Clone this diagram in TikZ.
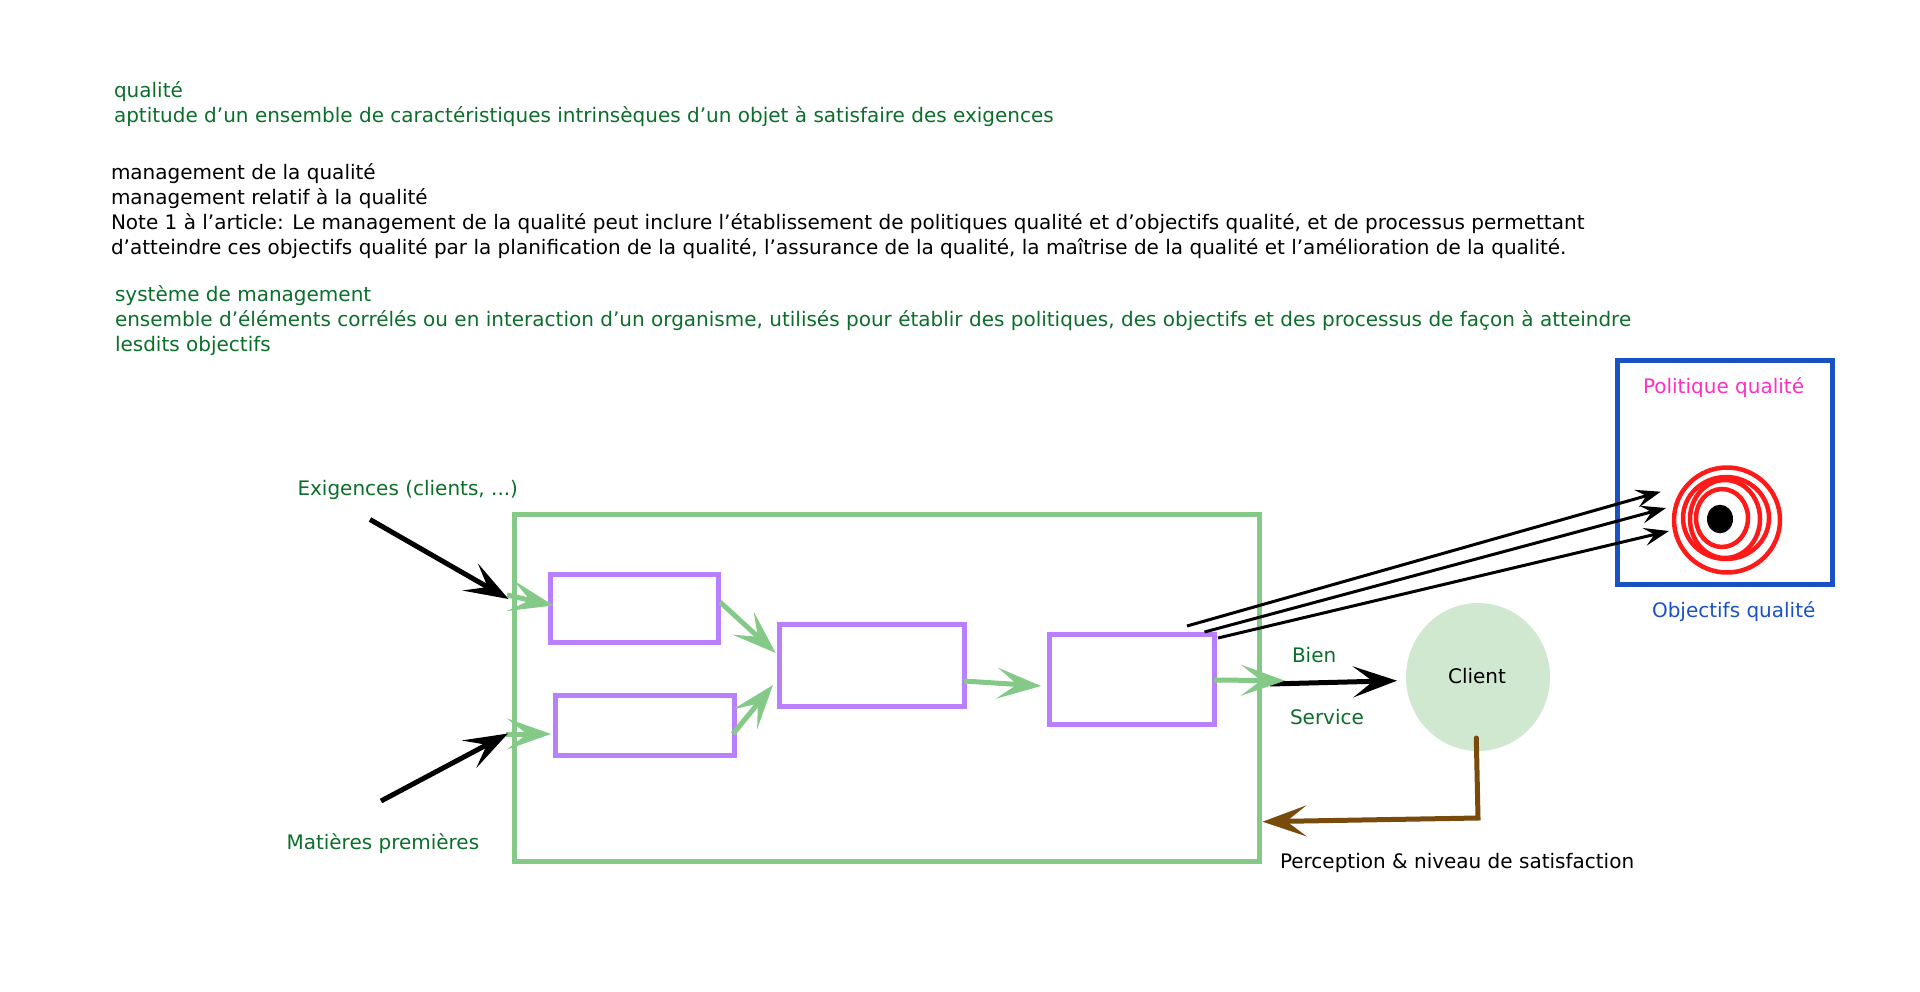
\documentclass[tikz,border=0pt]{standalone}
\usepackage{fontspec}
\setmainfont{DejaVu Sans}
\usetikzlibrary{arrows.meta,shapes.geometric}
\definecolor{txtgreen}{HTML}{0B6E2A}
\definecolor{procgreen}{HTML}{85C988}
\definecolor{stepviolet}{HTML}{B87FFF}
\definecolor{polblue}{HTML}{1A52C4}
\definecolor{clientfill}{HTML}{D0E8D0}
\definecolor{fbbrown}{HTML}{784A0C}
\definecolor{polpink}{HTML}{FF2FC0}
\definecolor{ringred}{HTML}{FF1A1A}
\tikzset{
  txt/.style={anchor=base west,inner sep=0pt,outer sep=0pt,font=\fontsize{20}{25}\selectfont},
  stepbox/.style={draw=stepviolet,line width=5pt,inner sep=0pt,outer sep=0pt},
  bigtip/.style={-{Stealth[length=44pt,width=31pt,inset=20pt]}},
  flow/.style={bigtip,draw=procgreen,line width=5pt},
  input/.style={bigtip,draw=black,line width=5pt},
  aim/.style={-{Stealth[length=25pt,width=18pt,inset=10pt]},draw=black,line width=3pt},
  ring/.style={draw=ringred,line width=4.5pt}
}
\begin{document}
\begin{tikzpicture}[x=1pt,y=-1pt]
\useasboundingbox (0,0) rectangle (1920,991);

% definitions at the top of the page
\node[txt,text=txtgreen] (q1) at (114,97.5) {qualité};
\node[txt,text=txtgreen] (q2) at (114,122.5) {aptitude d’un ensemble de caractéristiques intrinsèques d’un objet à satisfaire des exigences};
\node[txt] (m1) at (111,179.5) {management de la qualité};
\node[txt] (m2) at (111,204.5) {management relatif à la qualité};
\node[txt] (m3) at (111,229.5) {Note 1 à l’article: Le management de la qualité peut inclure l’établissement de politiques qualité et d’objectifs qualité, et de processus permettant};
\node[txt] (m4) at (111,254.5) {d’atteindre ces objectifs qualité par la planification de la qualité, l’assurance de la qualité, la maîtrise de la qualité et l’amélioration de la qualité.};
\node[txt,text=txtgreen] (s1) at (115,301) {système de management};
\node[txt,text=txtgreen] (s2) at (115,326) {ensemble d’éléments corrélés ou en interaction d’un organisme, utilisés pour établir des politiques, des objectifs et des processus de façon à atteindre};
\node[txt,text=txtgreen] (s3) at (115,351.5) {lesdits objectifs};

% management system frame and process steps
\node[draw=procgreen,line width=5pt,inner sep=0pt,outer sep=0pt,minimum width=745pt,minimum height=347pt] (sys) at (887,688) {};
\node[stepbox,minimum width=168pt,minimum height=68pt] (a) at (634.5,608.7) {};
\node[stepbox,minimum width=179pt,minimum height=60pt] (b) at (645,725.7) {};
\node[stepbox,minimum width=185pt,minimum height=82pt] (c) at (871.5,665.7) {};
\node[stepbox,minimum width=165pt,minimum height=90pt] (d) at (1132.2,679.7) {};

% client
\node[fill=clientfill,ellipse,inner sep=0pt,minimum width=144pt,minimum height=148pt] (client) at (1478,677) {};
\node[anchor=base,inner sep=0pt,font=\fontsize{20}{25}\selectfont] (clienttxt) at (1477,683.5) {Client};

% policy frame and target
\node[draw=polblue,line width=5pt,inner sep=0pt,outer sep=0pt,minimum width=215pt,minimum height=224pt] (pol) at (1725,472) {};
\draw[ring] (1727,520) ellipse [x radius=53,y radius=52.5];
\draw[ring] (1726,518) ellipse [x radius=43,y radius=41];
\draw[ring] (1725,519) ellipse [x radius=35,y radius=39];
\draw[ring] (1722,518) ellipse [x radius=26,y radius=29];
\fill[black] (1720,519) ellipse [x radius=13,y radius=14.3];

% connector end points
\coordinate (ain) at (370,519.5);
\coordinate (aend) at (508.5,599);
\coordinate (bin) at (381,801);
\coordinate (bend) at (508,733.5);
\coordinate (f1s) at (507,595);
\coordinate (f1e) at (553.5,605.5);
\coordinate (f2s) at (506,734);
\coordinate (f2e) at (551,734);
\coordinate (f3s) at (720,602);
\coordinate (f3e) at (775.7,653);
\coordinate (f4s) at (733,734);
\coordinate (f4e) at (773,685);
\coordinate (f5s) at (964,681);
\coordinate (f5e) at (1041,686);
\coordinate (f6s) at (1214,680);
\coordinate (f6e) at (1285,680.7);
\coordinate (outs) at (1270,684);
\coordinate (oute) at (1397,680.7);
\coordinate (o1s) at (1187,626);
\coordinate (o1e) at (1660.7,491.7);
\coordinate (o2s) at (1204.5,632);
\coordinate (o2e) at (1666,508);
\coordinate (o3s) at (1218,638);
\coordinate (o3e) at (1669,531);
\coordinate (fbs) at (1476.3,738);
\coordinate (fbc) at (1478,818);
\coordinate (fbe) at (1262.5,821.7);

% flows through the process
\draw[input] (outs) -- (oute);
\draw[flow] (f1s) -- (f1e);
\draw[flow] (f2s) -- (f2e);
\draw[flow] (f3s) -- (f3e);
\draw[flow] (f4s) -- (f4e);
\draw[flow] (f5s) -- (f5e);
\draw[flow] (f6s) -- (f6e);

% inputs
\draw[input] (ain) -- (aend);
\draw[input] (bin) -- (bend);

% outputs aimed at the target
\draw[aim] (o1s) -- (o1e);
\draw[aim] (o2s) -- (o2e);
\draw[aim] (o3s) -- (o3e);

% client feedback
\draw[bigtip,draw=fbbrown,line width=5pt,line cap=round] (fbs) -- (fbc) -- (fbe);

% diagram labels
\node[txt,text=txtgreen] (lex) at (297.5,495) {Exigences (clients, ...)};
\node[txt,text=txtgreen] (lmp) at (286.5,849.5) {Matières premières};
\node[txt,text=txtgreen] (lbien) at (1292,662) {Bien};
\node[txt,text=txtgreen] (lserv) at (1290,724.5) {Service};
\node[txt] (lperc) at (1280,868.5) {Perception \& niveau de satisfaction};
\node[txt,text=polpink] (lpol) at (1643,393.5) {Politique qualité};
\node[txt,text=polblue] (lobj) at (1652,617) {Objectifs qualité};
\end{tikzpicture}
\end{document}
